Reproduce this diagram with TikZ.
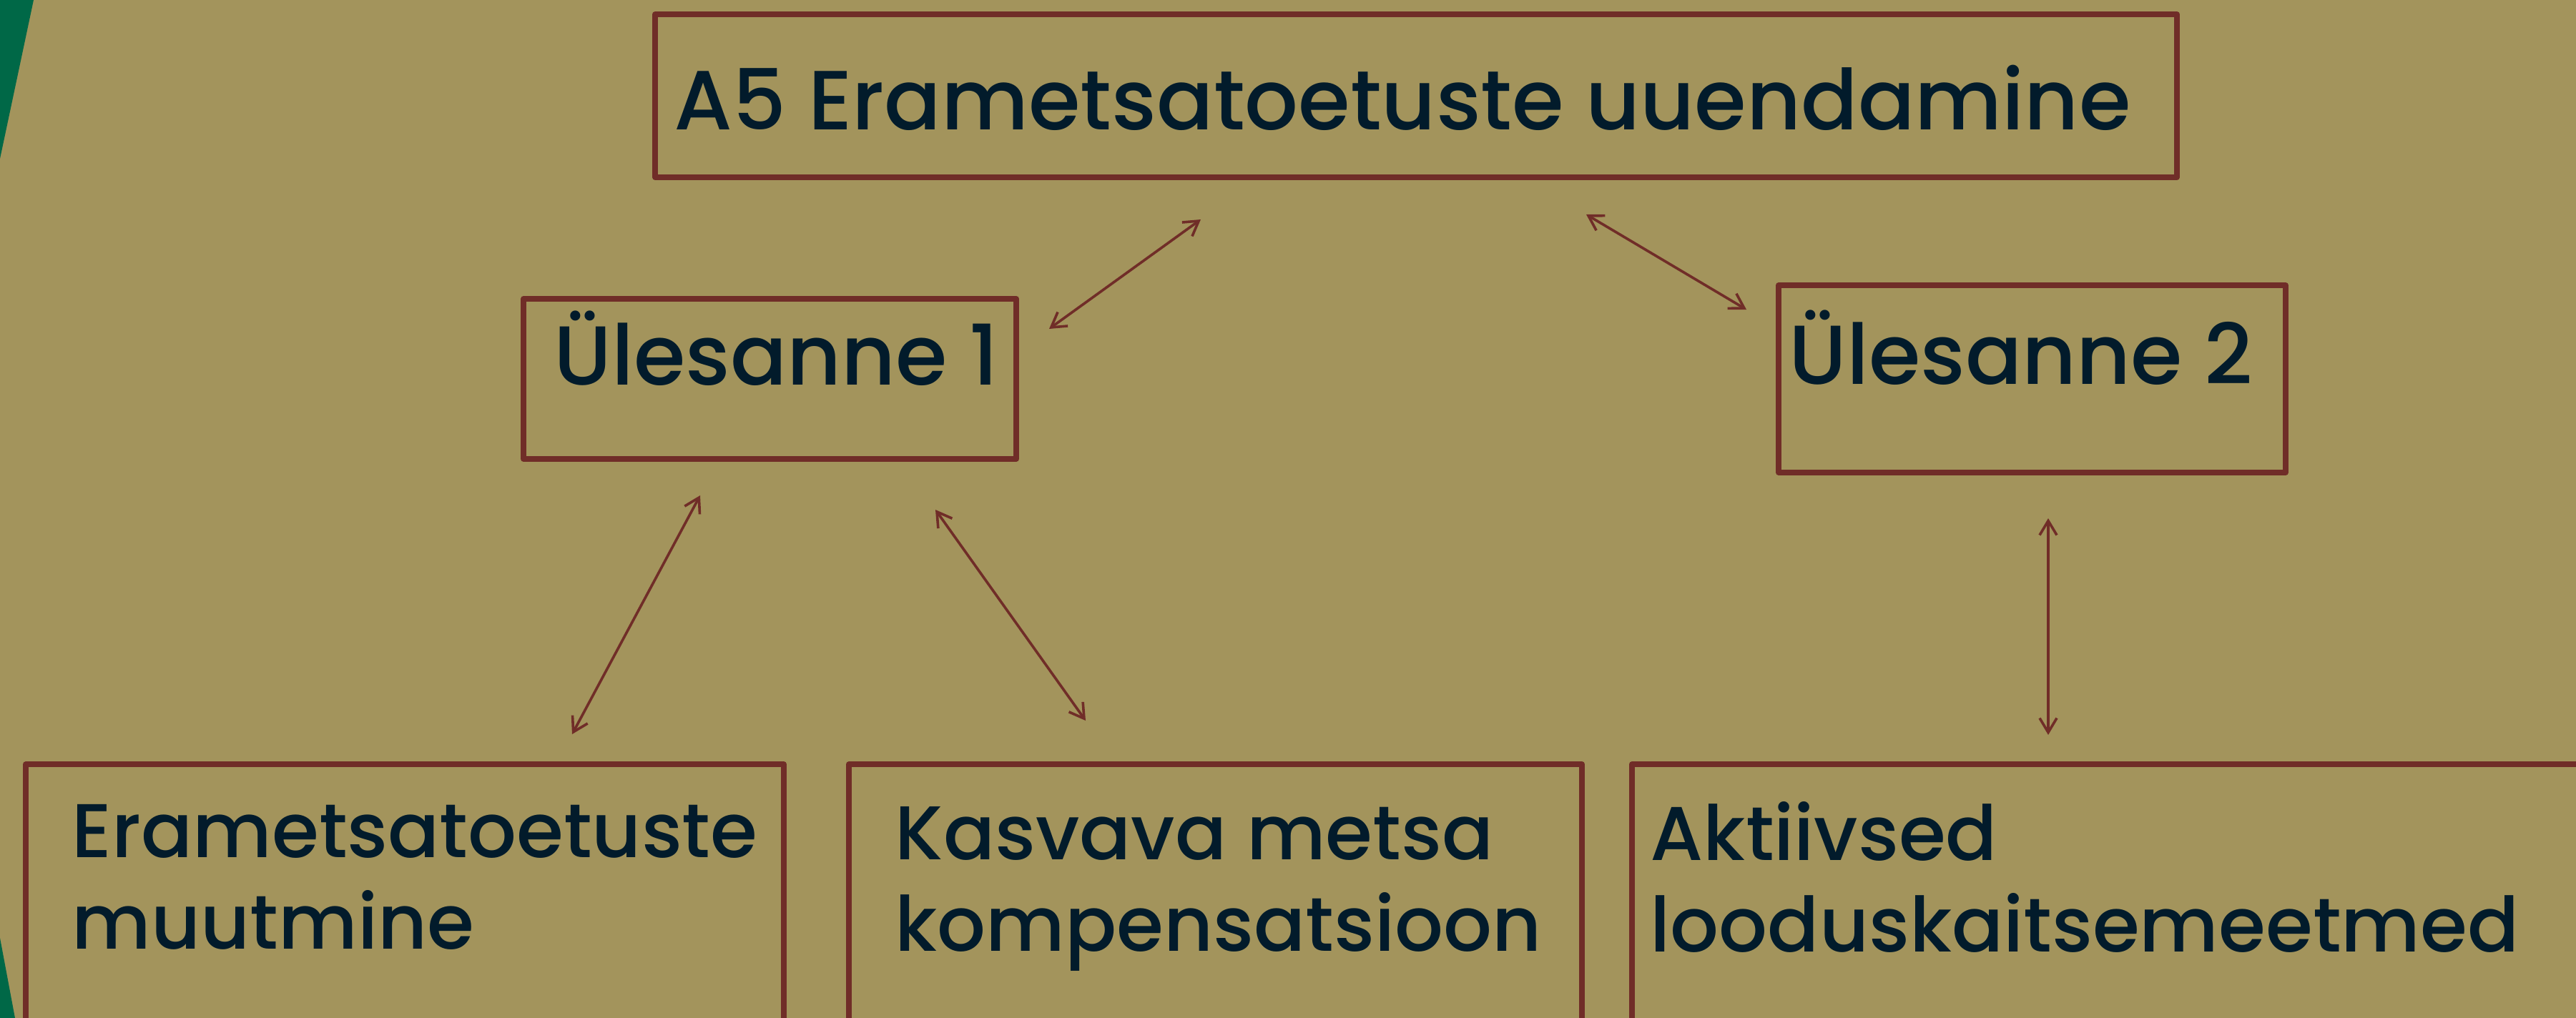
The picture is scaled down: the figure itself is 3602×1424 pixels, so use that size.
\documentclass[tikz,border=0pt]{standalone}
\usepackage{fontspec}
\setmainfont{Poppins}[UprightFont={* Medium}]
\usetikzlibrary{arrows.meta}
\definecolor{bgtan}{HTML}{A3945C}
\definecolor{brd}{HTML}{702D28}
\definecolor{ink}{HTML}{021B2B}
\definecolor{leaf}{HTML}{006847}
\tikzset{
  box/.style={draw=brd, line width=0.075cm, rectangle, inner sep=0pt, line join=round},
  lbl/.style={anchor=base west, inner sep=0pt, text=ink, align=left},
  biglbl/.style={lbl, font=\fontsize{33.4pt}{40pt}\selectfont},
  midlbl/.style={lbl, font=\fontsize{33.3pt}{40pt}\selectfont},
  smalllbl/.style={lbl, font=\fontsize{30.3pt}{36.4pt}\selectfont},
  link/.style={draw=brd, line width=0.036cm, line cap=round,
    {Straight Barb[length=0.2cm, width=0.24cm, line width=0.036cm]}-{Straight Barb[length=0.2cm, width=0.24cm, line width=0.036cm]}}
}
\begin{document}
\begin{tikzpicture}[x=0.01cm, y=-0.01cm]
\useasboundingbox (0,0) rectangle (3602,1424);
\fill[bgtan] (0,0) rectangle (3602,1424);
\begin{scope}
\clip (0,0) rectangle (3602,1424);
\fill[leaf] (0,0) -- (47,0) -- (0,222) -- cycle;
\fill[leaf] (0,1312) -- (21,1424) -- (0,1424) -- cycle;
% boxes
\draw[box] (916,20) rectangle (3044,248);
\node[inner sep=0pt, minimum width=21.28cm, minimum height=2.28cm] (top) at (1980,134) {};
\draw[box] (732,418) rectangle (1421,642);
\node[inner sep=0pt, minimum width=6.89cm, minimum height=2.24cm] (t1) at (1076.5,530) {};
\draw[box] (2487,399) rectangle (3196,661);
\node[inner sep=0pt, minimum width=7.09cm, minimum height=2.62cm] (t2) at (2841.5,530) {};
\draw[box] (36,1069) rectangle (1096,1500);
\draw[box] (1187,1069) rectangle (2212,1500);
\draw[box] (2282,1069) rectangle (3700,1500);
\node[inner sep=0pt, minimum width=10.6cm, minimum height=3.55cm] (b1) at (566,1246) {};
\node[inner sep=0pt, minimum width=10.25cm, minimum height=3.55cm] (b2) at (1699.5,1246) {};
\node[inner sep=0pt, minimum width=13.2cm, minimum height=3.55cm] (b3) at (2942,1246) {};
\end{scope}
% labels
\node[biglbl] (toplbl) at (942,181) {A5 Erametsatoetuste uuendamine};
\node[midlbl] (t1lbl) at (774,538) {Ülesanne 1};
\node[midlbl] (t2lbl) at (2501,537) {Ülesanne 2};
\node[smalllbl] (b1lbl) at (100,1327) {Erametsatoetuste\\muutmine};
\node[smalllbl] (b2lbl) at (1251,1330) {Kasvava metsa\\kompensatsioon};
\node[smalllbl] (b3lbl) at (2307,1331) {Aktiivsed\\looduskaitsemeetmed};
% connector ends
\coordinate (a1s) at (1467,460);
\coordinate (a1e) at (1679,307);
\coordinate (a2s) at (2218,300);
\coordinate (a2e) at (2442,433);
\coordinate (a3s) at (979,693);
\coordinate (a3e) at (800,1027);
\coordinate (a4s) at (1308,713);
\coordinate (a4e) at (1518,1008);
\coordinate (a5s) at (2864,725);
\coordinate (a5e) at (2864,1028);
\draw[link] (a1s) -- (a1e);
\draw[link] (a2s) -- (a2e);
\draw[link] (a3s) -- (a3e);
\draw[link] (a4s) -- (a4e);
\draw[link] (a5s) -- (a5e);
\end{tikzpicture}
\end{document}
